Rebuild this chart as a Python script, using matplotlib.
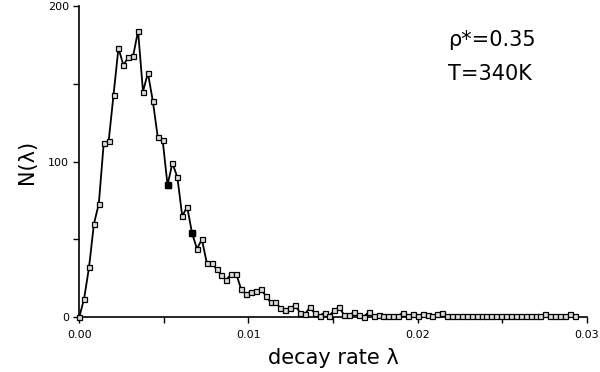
import numpy as np
import matplotlib
matplotlib.use("Agg")
import matplotlib.pyplot as plt
from matplotlib.ticker import MultipleLocator

# histogram of decay rates, bin spacing
bin_width = 0.00029
counts = [0, 12, 32, 60, 73, 112, 113, 143, 173, 162,
          167, 168, 184, 145, 157, 139, 116, 114, 85, 99,
          90, 65, 71, 54, 44, 50, 35, 35, 31, 27,
          24, 28, 28, 18, 15, 16.5, 17, 18, 14, 9.6,
          9.6, 6, 5, 6, 7.7, 3, 2, 6.4, 2.6, 1,
          3, 1, 4.7, 6.4, 1.4, 1.4, 3.3, 1.4, 0.5, 3.3,
          1, 1.4, 1, 1, 1, 1, 3, 1, 2, 1,
          2, 1.5, 1, 2, 3, 0.7, 0.7, 0.7, 0.7, 0.7,
          0.7, 0.7, 0.7, 0.7, 0.7, 0.7, 0.7, 0.7, 0.7, 0.7,
          0.7, 0.7, 0.7, 0.7, 0.7, 2, 0.7, 0.7, 0.7, 0.7,
          2, 1]
lam = np.arange(len(counts)) * bin_width
filled = [18, 23]  # bins drawn with solid black squares

fig = plt.figure(figsize=(6, 3.72), dpi=100)
ax = fig.add_axes([0.132, 0.147, 0.846, 0.837])

ax.plot(lam, counts, '-', color='black', lw=1.3, marker='s', ms=3.6,
        mfc='#dcdcdc', mec='black', mew=0.9, clip_on=False, zorder=3)
ax.plot(lam[filled], np.array(counts)[filled], 's', color='black', ms=3.8,
        clip_on=False, zorder=4)

ax.set_xlim(0, 0.03)
ax.set_ylim(0, 200)
ax.xaxis.set_minor_locator(MultipleLocator(0.005))
ax.yaxis.set_major_locator(MultipleLocator(100))
ax.yaxis.set_minor_locator(MultipleLocator(50))
ax.set_xticks([0, 0.01, 0.02, 0.03])
ax.set_xticklabels(['0.00', '0.01', '0.02', '0.03'])
ax.tick_params(which='both', direction='out', length=4, width=1, labelsize=8)
ax.tick_params(axis='x', pad=5)

for s in ['top', 'right']:
    ax.spines[s].set_visible(False)
ax.spines['left'].set_linewidth(1.2)
ax.spines['bottom'].set_linewidth(1.2)

ax.set_xlabel('decay rate λ', fontsize=15, labelpad=6)
ax.set_ylabel('N(λ)', fontsize=15, labelpad=8)

ax.text(0.0218, 178, 'ρ*=0.35', fontsize=15, va='center')
ax.text(0.0218, 156, 'T=340K', fontsize=15, va='center')

fig.savefig('out.png', dpi=100)
